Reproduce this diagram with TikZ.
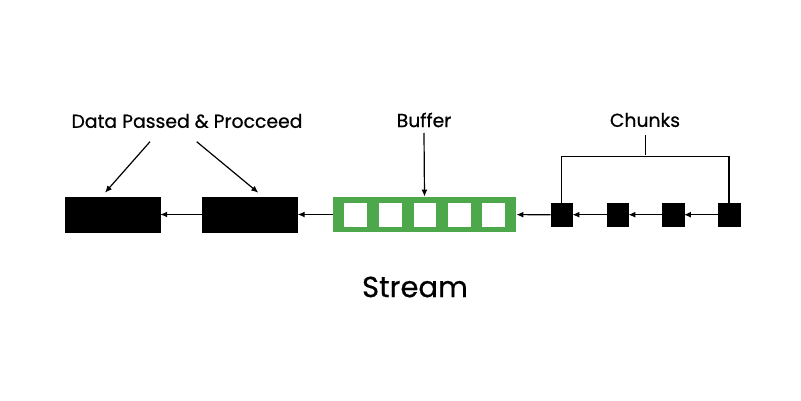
\documentclass[tikz,border=0pt]{standalone}
\usepackage{fontspec}
\setmainfont{Poppins}[FakeBold=0.6]
\usetikzlibrary{arrows.meta}
\definecolor{bufgreen}{HTML}{4CA84A}
\tikzset{
  blk/.style={fill=black,draw=black,inner sep=0,minimum width=95pt,minimum height=35pt},
  chunk/.style={fill=black,draw=black,inner sep=0,minimum width=21.5pt,minimum height=22.5pt},
  cell/.style={fill=white,draw=none,inner sep=0,minimum width=22.5pt,minimum height=24pt},
  buf/.style={fill=bufgreen,draw=none,inner sep=0,minimum width=183.5pt,minimum height=35.5pt},
  lbl/.style={font=\fontsize{18.8}{20}\selectfont,inner sep=0},
  arr/.style={line width=1.2pt,-{Latex[length=7pt,width=6pt]}},
  ln/.style={line width=1.2pt}
}
\begin{document}
\begin{tikzpicture}[x=1pt,y=-1pt]
\useasboundingbox (0,0) rectangle (801,401);
% boxes
\node[blk] (b1) at (112.5,214.5) {};
\node[blk] (b2) at (250,214.5) {};
\node[buf] (buf) at (424.5,214.5) {};
\foreach \i/\x in {1/355.7,2/390.5,3/425,4/459.7,5/493.3}{
  \node[cell] (c\i) at (\x,214.7) {};
}
\node[chunk] (k1) at (561.5,214.7) {};
\node[chunk] (k2) at (617.5,214.7) {};
\node[chunk] (k3) at (673,214.7) {};
\node[chunk] (k4) at (729,214.7) {};
% flow arrows
\draw[arr] (k4) -- (k3);
\draw[arr] (k3) -- (k2);
\draw[arr] (k2) -- (k1);
\draw[arr] (k1) -- (buf);
\draw[arr] (buf) -- (b2);
\draw[arr] (b2) -- (b1);
% labels
\node[lbl] (dp) at (187,121) {Data Passed \& Procceed};
\node[lbl] (bl) at (424,120) {Buffer};
\node[lbl] (cl) at (645,120) {Chunks};
\node[font=\fontsize{29}{32}\selectfont,inner sep=0] (st) at (415,287) {Stream};
% label arrows
\coordinate (d1s) at (150,141.7);
\coordinate (d1e) at (105,192.7);
\coordinate (d2s) at (196.7,141.7);
\coordinate (d2e) at (258.3,192.7);
\draw[arr] (d1s) -- (d1e);
\draw[arr] (d2s) -- (d2e);
\coordinate (bs) at (424,133);
\draw[arr] (bs) -- (buf.north);
% bracket
\coordinate (tk) at (645.3,135);
\coordinate (tm) at (645.3,155);
\draw[ln] (tk) -- (tm);
\draw[ln] (k1.north) -- ++(0,-47) -| (k4.north);
\end{tikzpicture}
\end{document}
